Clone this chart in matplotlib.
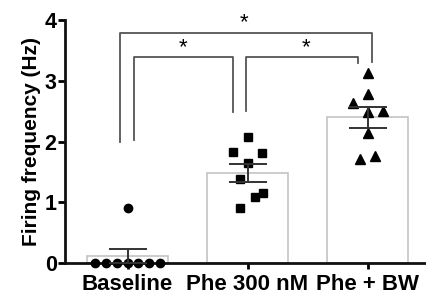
import matplotlib
matplotlib.use("Agg")
import matplotlib.pyplot as plt
import numpy as np

plt.rcParams['font.family'] = ['Liberation Sans', 'DejaVu Sans']

categories = ["Baseline", "Phe 300 nM", "Phe + BW"]
baseline_vals = [0.9, 0, 0, 0, 0, 0, 0, 0]
baseline_jit = [0.0, -0.27, -0.18, -0.09, 0.0, 0.09, 0.18, 0.27]
phe_vals = [2.07, 1.83, 1.81, 1.64, 1.39, 1.16, 1.09, 0.90]
phe_jit = [0.0, -0.12, 0.12, 0.0, -0.06, 0.125, 0.06, -0.06]
bw_vals = [3.13, 2.79, 2.64, 2.49, 2.50, 2.14, 1.72, 1.76]
bw_jit = [0.0, 0.0, -0.12, 0.0, 0.125, 0.0, -0.06, 0.065]
yticks = [0, 1, 2, 3, 4]

groups = [baseline_vals, phe_vals, bw_vals]
jits = [baseline_jit, phe_jit, bw_jit]
markers = ['o', 's', '^']
msizes = [6, 6, 6.5]

fig = plt.figure(figsize=(4.26, 2.97), dpi=100)
ax = fig.add_axes([0.1526, 0.1145, 0.8474, 0.818])

x = np.arange(len(categories))
means = [np.mean(g) for g in groups]
sems = [np.std(g, ddof=1) / np.sqrt(len(g)) for g in groups]

ax.bar(x, means, width=0.67, facecolor='white', edgecolor='#c4c4c4', linewidth=1.2, zorder=1)
for i, (g, j) in enumerate(zip(groups, jits)):
    ax.plot(np.array(j) + i, g, linestyle='none', marker=markers[i], color='black',
            markersize=msizes[i], zorder=3, clip_on=False)
ax.errorbar(x, means, yerr=sems, fmt='none', ecolor='#333333', elinewidth=1.4,
            capsize=14, capthick=1.4, zorder=4)

# significance brackets
bc = '#555555'
def bracket(x1, x2, y, yl1, yl2):
    ax.plot([x1, x1, x2, x2], [yl1, y, y, yl2], color=bc, linewidth=1.3, clip_on=False, zorder=2)

bracket(-0.06, 2.04, 3.79, 2.0, 3.31)
bracket(0.05, 0.88, 3.39, 2.02, 2.49)
bracket(0.99, 1.92, 3.39, 2.5, 3.3)
for sx, sy in [(0.97, 3.95), (0.46, 3.54), (1.49, 3.54)]:
    ax.text(sx, sy, '*', ha='center', va='center', fontsize=16, color='black', clip_on=False)

ax.set_xlim(-0.521, 2.4875)
ax.set_ylim(0, 4)
ax.set_yticks(yticks)
ax.set_yticklabels([str(t) for t in yticks], fontsize=15.5, fontweight='bold')
ax.set_xticks(x)
ax.set_xticklabels(categories, fontsize=16, fontweight='bold')
ax.set_ylabel('Firing frequency (Hz)', fontsize=15, fontweight='bold', labelpad=3)

for s in ['top', 'right']:
    ax.spines[s].set_visible(False)
for s in ['left', 'bottom']:
    ax.spines[s].set_linewidth(2)
    ax.spines[s].set_color('#111111')
ax.tick_params(axis='y', length=5, width=2, pad=1)
ax.tick_params(axis='x', length=4, width=2, pad=4)

fig.savefig('out.png', dpi=100)
